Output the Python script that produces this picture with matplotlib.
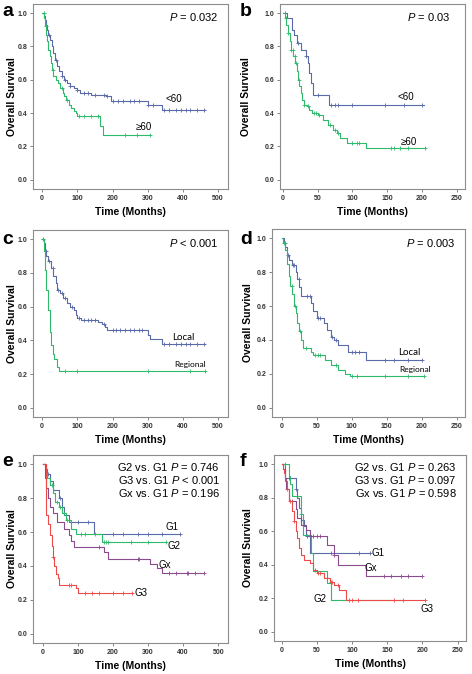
import matplotlib
matplotlib.use("Agg")
import matplotlib.pyplot as plt
import numpy as np

plt.rcParams["font.family"] = ["Liberation Sans", "DejaVu Sans"]
plt.rcParams["mathtext.fontset"] = "custom"
plt.rcParams["mathtext.rm"] = "Liberation Sans"
plt.rcParams["mathtext.it"] = "Liberation Sans:italic"

BLUE = "#5a6aa8"
GREEN = "#2dba6a"
RED = "#ee4a4a"
PURPLE = "#8a4a8e"

# ---- panel a : age, all patients ----
a_lt60_t = [0, 5, 8, 12, 15, 18, 22, 27, 32, 37, 42, 47, 55, 62, 70, 80, 90, 100, 108, 140, 180, 195, 300, 340, 462]
a_lt60_s = [1.0, 0.98, 0.96, 0.93, 0.90, 0.87, 0.84, 0.80, 0.76, 0.72, 0.68, 0.65, 0.62, 0.60, 0.58, 0.56, 0.55, 0.54, 0.52, 0.51, 0.50, 0.47, 0.45, 0.42, 0.42]
a_lt60_c = [20, 40, 55, 65, 80, 100, 120, 130, 150, 175, 185, 200, 215, 230, 250, 260, 275, 300, 315, 345, 360, 380, 395, 410, 420, 440, 460]
a_ge60_t = [0, 6, 9, 12, 15, 18, 21, 25, 28, 32, 38, 45, 52, 58, 63, 68, 75, 82, 90, 96, 100, 165, 173, 305]
a_ge60_s = [1.0, 0.97, 0.92, 0.87, 0.83, 0.78, 0.74, 0.70, 0.66, 0.62, 0.60, 0.58, 0.55, 0.52, 0.50, 0.48, 0.45, 0.43, 0.41, 0.40, 0.38, 0.32, 0.27, 0.27]
a_ge60_c = [4, 10, 30, 55, 70, 105, 120, 140, 160, 235, 270, 305]

# ---- panel b : age, subgroup ----
b_lt60_t = [0, 6, 13, 16, 20, 26, 33, 36, 38, 40, 43, 66, 203]
b_lt60_s = [1.0, 0.97, 0.90, 0.87, 0.82, 0.78, 0.74, 0.70, 0.64, 0.58, 0.51, 0.45, 0.45]
b_lt60_c = [3, 22, 33, 50, 70, 75, 80, 100, 147, 175, 200]
b_ge60_t = [0, 3, 5, 7, 10, 12, 15, 18, 20, 22, 24, 26, 28, 30, 35, 38, 42, 50, 58, 65, 72, 78, 82, 92, 120, 205]
b_ge60_s = [1.0, 0.97, 0.93, 0.88, 0.83, 0.78, 0.74, 0.70, 0.65, 0.60, 0.56, 0.52, 0.48, 0.45, 0.44, 0.42, 0.40, 0.39, 0.36, 0.33, 0.30, 0.28, 0.25, 0.22, 0.19, 0.19]
b_ge60_c = [4, 8, 12, 14, 17, 19, 23, 30, 36, 45, 48, 52, 68, 75, 80, 100, 107, 110, 155, 160, 168, 180, 205]

# ---- panel c : stage, all patients ----
c_loc_t = [0, 5, 8, 12, 18, 25, 32, 38, 42, 50, 60, 70, 80, 90, 95, 100, 110, 160, 170, 178, 185, 300, 305, 315, 340, 462]
c_loc_s = [1.0, 0.98, 0.93, 0.90, 0.87, 0.83, 0.78, 0.74, 0.70, 0.68, 0.65, 0.62, 0.60, 0.58, 0.55, 0.53, 0.52, 0.51, 0.50, 0.48, 0.46, 0.43, 0.41, 0.41, 0.38, 0.38]
c_loc_c = [3, 10, 20, 30, 45, 55, 65, 85, 105, 120, 130, 140, 150, 175, 200, 210, 220, 235, 250, 260, 275, 285, 345, 360, 380, 395, 410, 420, 440, 460]
c_reg_t = [0, 5, 8, 12, 18, 22, 26, 30, 35, 42, 48, 55, 462]
c_reg_s = [1.0, 0.93, 0.82, 0.70, 0.58, 0.45, 0.37, 0.32, 0.29, 0.24, 0.22, 0.22, 0.22]
c_reg_c = [65, 100, 300, 420, 462]

# ---- panel d : stage, subgroup ----
d_loc_t = [0, 3, 5, 8, 10, 15, 20, 22, 25, 28, 30, 42, 45, 50, 60, 65, 70, 75, 80, 95, 121, 200]
d_loc_s = [1.0, 0.97, 0.95, 0.90, 0.87, 0.84, 0.80, 0.76, 0.71, 0.66, 0.66, 0.62, 0.57, 0.53, 0.50, 0.46, 0.42, 0.40, 0.37, 0.33, 0.28, 0.28]
d_loc_c = [4, 9, 16, 18, 24, 36, 40, 52, 55, 72, 78, 100, 105, 110, 148, 160, 180, 200]
d_reg_t = [0, 2, 5, 8, 10, 12, 15, 18, 20, 22, 24, 27, 30, 42, 45, 62, 70, 80, 90, 98, 203]
d_reg_s = [1.0, 0.97, 0.93, 0.85, 0.78, 0.72, 0.67, 0.60, 0.56, 0.50, 0.45, 0.40, 0.35, 0.33, 0.31, 0.28, 0.25, 0.22, 0.20, 0.19, 0.19]
d_reg_c = [3, 14, 19, 26, 35, 48, 52, 55, 78, 100, 108, 148, 180, 203]

# ---- panel e : grade, all patients ----
e_g1_t = [0, 10, 12, 20, 30, 45, 55, 60, 75, 90, 145, 390]
e_g1_s = [1.0, 0.97, 0.94, 0.90, 0.85, 0.80, 0.75, 0.70, 0.66, 0.66, 0.59, 0.59]
e_g1_c = [15, 50, 100, 130, 200, 230, 270, 300, 340, 390]
e_g2_t = [0, 8, 12, 20, 28, 35, 45, 55, 65, 80, 95, 110, 170, 350]
e_g2_s = [1.0, 0.95, 0.92, 0.88, 0.83, 0.78, 0.75, 0.71, 0.67, 0.62, 0.59, 0.59, 0.54, 0.54]
e_g2_c = [25, 40, 50, 60, 70, 110, 120, 150, 175, 180, 185, 250, 300, 350]
e_gx_t = [0, 5, 10, 15, 20, 30, 40, 60, 75, 80, 90, 105, 175, 185, 305, 325, 340, 460]
e_gx_s = [1.0, 0.92, 0.86, 0.80, 0.75, 0.71, 0.66, 0.62, 0.58, 0.55, 0.51, 0.51, 0.48, 0.44, 0.41, 0.39, 0.36, 0.36]
e_gx_c = [160, 270, 275, 360, 380, 410, 415, 435, 460]
e_g3_t = [0, 8, 10, 15, 20, 25, 28, 32, 38, 42, 45, 50, 95, 100, 255]
e_g3_s = [1.0, 0.85, 0.70, 0.65, 0.58, 0.52, 0.45, 0.40, 0.35, 0.33, 0.29, 0.29, 0.27, 0.24, 0.24]
e_g3_c = [30, 75, 80, 120, 140, 160, 200, 230, 255]

# ---- panel f : grade, subgroup ----
f_g1_t = [0, 5, 20, 22, 25, 28, 32, 35, 40, 42, 125]
f_g1_s = [1.0, 0.92, 0.85, 0.80, 0.74, 0.67, 0.63, 0.57, 0.47, 0.47, 0.47]
f_g1_c = [10, 20, 36, 70, 110, 125]
f_g2_t = [0, 10, 12, 15, 20, 28, 30, 42, 45, 65, 70, 173]
f_g2_s = [1.0, 0.93, 0.88, 0.81, 0.81, 0.70, 0.58, 0.47, 0.36, 0.29, 0.19, 0.19]
f_g2_c = [4, 28, 173]
f_g3_t = [0, 2, 3, 5, 7, 10, 14, 17, 20, 22, 25, 28, 32, 40, 45, 50, 60, 68, 75, 82, 92, 203]
f_g3_s = [1.0, 0.97, 0.95, 0.90, 0.85, 0.78, 0.72, 0.66, 0.60, 0.56, 0.50, 0.46, 0.43, 0.41, 0.37, 0.35, 0.32, 0.30, 0.28, 0.25, 0.19, 0.19]
f_g3_c = [8, 12, 18, 48, 52, 55, 65, 70, 72, 80, 95, 100, 108, 160, 203]
f_gx_t = [0, 2, 4, 6, 10, 20, 22, 27, 35, 40, 65, 75, 80, 120, 200]
f_gx_s = [1.0, 0.97, 0.92, 0.85, 0.78, 0.73, 0.68, 0.64, 0.61, 0.57, 0.52, 0.46, 0.40, 0.33, 0.33]
f_gx_c = [15, 45, 50, 55, 75, 145, 155, 170, 180, 200]

fig = plt.figure(figsize=(4.72, 6.74), dpi=100)
W, H = 472.0, 674.0


def km(ax, t, s, cens, color):
    t = np.array(t, float)
    s = np.array(s, float)
    ax.step(t, s, where="post", color=color, lw=0.8)
    cens = np.array(cens, float)
    idx = np.searchsorted(t, cens, side="right") - 1
    ax.plot(cens, s[idx], ls="none", marker="+", ms=3, mew=0.6, color=color)


def setup(ax, xmax, xlim, step, ylab_x):
    ax.set_xlim(*xlim)
    ax.set_ylim(-0.055, 1.055)
    ax.set_xticks(np.arange(0, xmax + 1, step))
    ax.set_yticks(np.arange(0, 1.01, 0.2))
    ax.set_yticklabels(["%.1f" % v for v in np.arange(0, 1.01, 0.2)])
    ax.tick_params(labelsize=5, length=2, width=0.5, color="#555555", labelcolor="#333333", pad=2)
    for lab in ax.get_xticklabels() + ax.get_yticklabels():
        lab.set_fontweight("bold")
    for sp in ax.spines.values():
        sp.set_color("#8c8c8c")
        sp.set_linewidth(0.8)
    ax.set_xlabel("Time (Months)", fontsize=7.5, fontweight="bold", labelpad=4)
    ax.set_ylabel("Overall Survival", fontsize=7.5, fontweight="bold")
    # right edge of the rotated label, in figure pixels
    ax.yaxis.set_label_coords(ylab_x / W, 0.5, transform=fig.transFigure)
    pos = ax.get_position()
    ax.yaxis.label.set_y(pos.y0 + pos.height / 2)


def box(l, t, r, b):
    return fig.add_axes([l / W, 1 - b / H, (r - l) / W, (b - t) / H])


axa = box(33, 4, 228, 189)
axb = box(280, 4, 465, 189)
axc = box(33, 230, 228, 417)
axd = box(272, 229, 465, 417)
axe = box(33, 455, 228, 643)
axf = box(274, 455, 466, 641)

# a
km(axa, a_lt60_t, a_lt60_s, a_lt60_c, BLUE)
km(axa, a_ge60_t, a_ge60_s, a_ge60_c, GREEN)
setup(axa, 500, (-26, 528), 100, 17)
axa.text(350, 0.47, "<60", fontsize=7)
axa.text(265, 0.30, "\u226560", fontsize=7)
axa.text(0.95, 0.96, r"$\it{P}$ = 0.032", transform=axa.transAxes, ha="right", va="top", fontsize=8)

# b
km(axb, b_lt60_t, b_lt60_s, b_lt60_c, BLUE)
km(axb, b_ge60_t, b_ge60_s, b_ge60_c, GREEN)
setup(axb, 250, (-4, 262), 50, 251)
axb.text(165, 0.48, "<60", fontsize=7)
axb.text(170, 0.21, "\u226560", fontsize=7)
axb.text(0.92, 0.96, r"$\it{P}$ = 0.03", transform=axb.transAxes, ha="right", va="top", fontsize=8)

# c
km(axc, c_loc_t, c_loc_s, c_loc_c, BLUE)
km(axc, c_reg_t, c_reg_s, c_reg_c, GREEN)
setup(axc, 500, (-26, 528), 100, 17)
axc.text(370, 0.40, "Local", fontsize=7, family="Lato")
axc.text(375, 0.24, "Regional", fontsize=6, family="Lato")
axc.text(0.95, 0.96, r"$\it{P}$ < 0.001", transform=axc.transAxes, ha="right", va="top", fontsize=8)

# d
km(axd, d_loc_t, d_loc_s, d_loc_c, BLUE)
km(axd, d_reg_t, d_reg_s, d_reg_c, GREEN)
setup(axd, 250, (-14, 262), 50, 253)
axd.text(166, 0.31, "Local", fontsize=7, family="Lato")
axd.text(168, 0.21, "Regional", fontsize=6, family="Lato")
axd.text(0.95, 0.96, r"$\it{P}$ = 0.003", transform=axd.transAxes, ha="right", va="top", fontsize=8)

# e
km(axe, e_g1_t, e_g1_s, e_g1_c, BLUE)
km(axe, e_g2_t, e_g2_s, e_g2_c, GREEN)
km(axe, e_gx_t, e_gx_s, e_gx_c, PURPLE)
km(axe, e_g3_t, e_g3_s, e_g3_c, RED)
setup(axe, 500, (-28, 528), 100, 17)
axe.text(350, 0.61, "G1", fontsize=7)
axe.text(355, 0.50, "G2", fontsize=7)
axe.text(330, 0.39, "Gx", fontsize=7)
axe.text(262, 0.22, "G3", fontsize=7)
axe.text(0.96, 0.97,
         "G2 vs. G1 $\\it{P}$ = 0.746\nG3 vs. G1 $\\it{P}$ < 0.001\nGx vs. G1 $\\it{P}$ = 0.196",
         transform=axe.transAxes, ha="right", va="top", fontsize=8, linespacing=1.1)

# f
km(axf, f_g1_t, f_g1_s, f_g1_c, BLUE)
km(axf, f_g2_t, f_g2_s, f_g2_c, GREEN)
km(axf, f_gx_t, f_gx_s, f_gx_c, PURPLE)
km(axf, f_g3_t, f_g3_s, f_g3_c, RED)
setup(axf, 250, (-11, 262), 50, 253)
axf.text(128, 0.45, "G1", fontsize=7)
axf.text(118, 0.36, "Gx", fontsize=7)
axf.text(45, 0.18, "G2", fontsize=7)
axf.text(197, 0.12, "G3", fontsize=7)
axf.text(0.95, 0.97,
         "G2 vs. G1 $\\it{P}$ = 0.263\nG3 vs. G1 $\\it{P}$ = 0.097\nGx vs. G1 $\\it{P}$ = 0.598",
         transform=axf.transAxes, ha="right", va="top", fontsize=8, linespacing=1.1)

# panel letters
for letter, x, y in [("a", 2, 12), ("b", 240, 12), ("c", 2, 239), ("d", 240, 239), ("e", 2, 461), ("f", 240, 461)]:
    fig.text(x / W, 1 - y / H, letter, fontsize=14, fontweight="bold", va="center", ha="left")

fig.savefig("out.png", dpi=100)
